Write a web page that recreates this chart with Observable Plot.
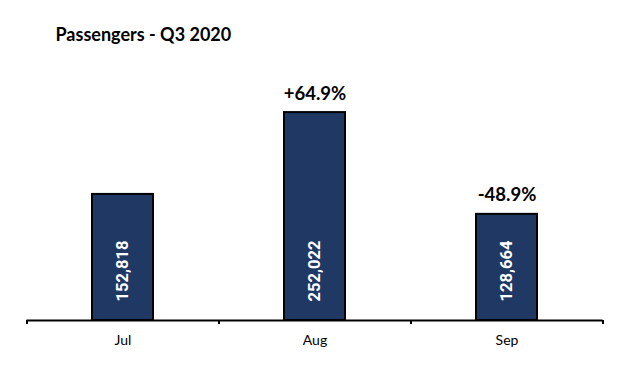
<!DOCTYPE html>
<html>
<head>
<meta charset="utf-8">
<script src="https://cdn.jsdelivr.net/npm/d3@7"></script>
<script src="https://cdn.jsdelivr.net/npm/@observablehq/plot@0.6"></script>
<style>
  html, body { margin: 0; padding: 0; background: #fff; }
</style>
</head>
<body>
<div id="chart"></div>
<script>
const months = ["Jul", "Aug", "Sep"];
const passengers = [152818, 252022, 128664];
const changeLabels = ["", "+64.9%", "-48.9%"];
const title = "Passengers - Q3 2020";

const data = months.map((m, i) => ({month: m, value: passengers[i], change: changeLabels[i]}));

const W = 641, H = 374, mL = 26.5, mR = 38.5;
const step = (W - mL - mR) / months.length;

const chart = Plot.plot({
  width: W,
  height: H,
  marginLeft: mL,
  marginRight: mR,
  marginTop: 72.5,
  marginBottom: 54,
  style: {background: "#fff", overflow: "visible"},
  x: {domain: months, paddingInner: 0.68, paddingOuter: 0.34, axis: null},
  y: {domain: [0, 300000], axis: null},
  marks: [
    Plot.barY(data, {x: "month", y: "value", fill: "#1f3864", stroke: "#000", strokeWidth: 2}),
    Plot.ruleY([0], {stroke: "#000", strokeWidth: 2}),
    Plot.axisX({tickSize: 0, tickPadding: 15, fontSize: 14, fontFamily: "Lato", fill: "#000", lineAnchor: "top", label: null}),
    Plot.axisX({tickSize: 4, tickFormat: () => "", dx: -step / 2, strokeWidth: 2, stroke: "#000", label: null}),
    Plot.axisX(["Sep"], {tickSize: 4, tickFormat: () => "", dx: step / 2, strokeWidth: 2, stroke: "#000", label: null}),
    Plot.text(data, {
      x: "month", y: 0, text: d => d3.format(",")(d.value),
      rotate: -90, textAnchor: "start", lineAnchor: "middle", dy: -19,
      fill: "#fff", fontWeight: "bold", fontSize: 16.5, fontFamily: "Roboto"
    }),
    Plot.text(data.filter(d => d.change), {
      x: "month", y: "value", text: "change", lineAnchor: "bottom", dy: -13,
      fill: "#000", fontWeight: "bold", fontSize: 18.5, fontFamily: "Lato"
    }),
    Plot.text([title], {
      frameAnchor: "top-left", textAnchor: "start", lineAnchor: "bottom",
      dx: 28.5, dy: -32.5, fill: "#000", fontWeight: "bold", fontSize: 18, fontFamily: "Lato",
      letterSpacing: "0.4px"
    })
  ]
});
document.getElementById("chart").appendChild(chart);
</script>
</body>
</html>
